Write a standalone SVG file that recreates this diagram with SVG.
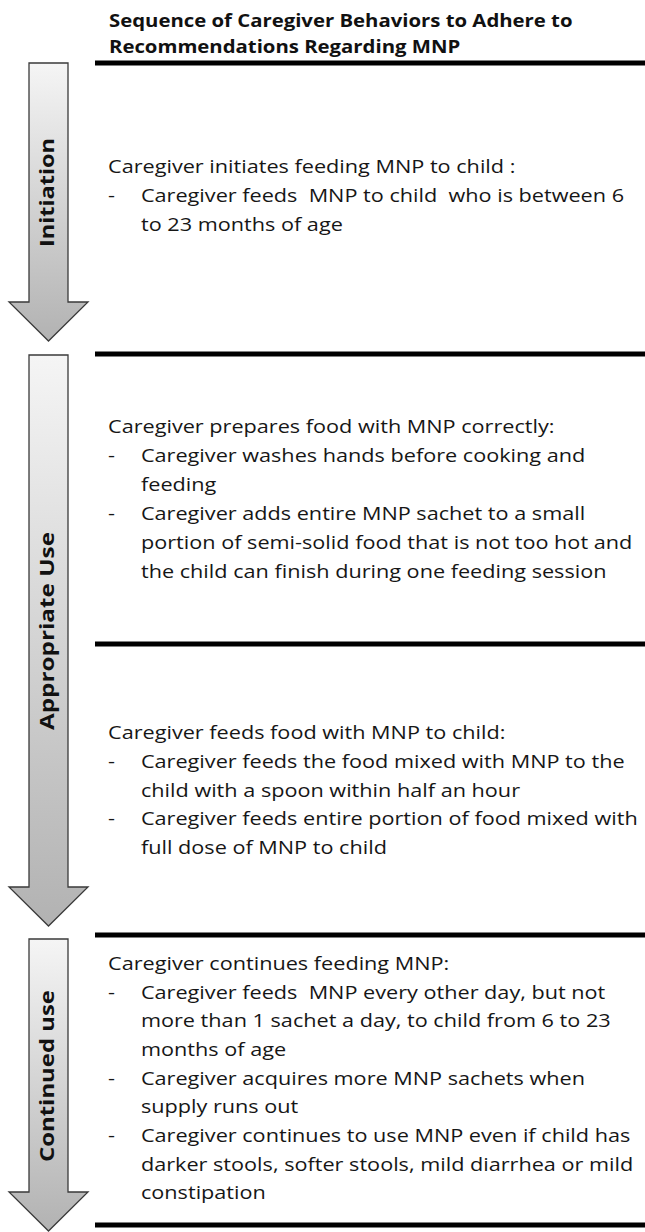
<svg xmlns="http://www.w3.org/2000/svg" width="645" height="1232" viewBox="0 0 645 1232">
<style>
.t{font-family:"Open Sans","Liberation Sans",sans-serif;font-size:19px;fill:#161616;white-space:pre}
.h{font-family:"Open Sans","Liberation Sans",sans-serif;font-size:18px;font-weight:bold;fill:#111}
.lab{font-family:"Open Sans","Liberation Sans",sans-serif;font-size:20px;font-weight:bold;fill:#111;text-anchor:middle}
.arr{fill:url(#g);stroke:#3a3a3a;stroke-width:1.3}
.rule{stroke:#000;stroke-width:5}
</style>
<defs>
<linearGradient id="g" x1="0" y1="0" x2="0" y2="1">
<stop offset="0" stop-color="#f5f5f5"/>
<stop offset="1" stop-color="#b2b2b2"/>
</linearGradient>
</defs>
<g id="title" transform="translate(109 0) scale(1.13 1)">
<text class="h" x="0" y="27">Sequence of Caregiver Behaviors to Adhere to</text>
<text class="h" x="0" y="53">Recommendations Regarding MNP</text>
</g>
<g id="connectors">
<line class="rule" x1="95" y1="63" x2="645" y2="63"/>
<line class="rule" x1="95" y1="354" x2="645" y2="354"/>
<line class="rule" x1="95" y1="644" x2="645" y2="644"/>
<line class="rule" x1="95" y1="935" x2="645" y2="935"/>
<line class="rule" x1="95" y1="1225" x2="645" y2="1225"/>
</g>
<g id="arrow-initiation">
<path class="arr" d="M29,63 H68 V302 H88 L48.5,341 L9,302 H29 Z"/>
<text class="lab" transform="translate(54,192.5) rotate(-90)" textLength="109" lengthAdjust="spacingAndGlyphs">Initiation</text>
</g>
<g id="arrow-appropriate">
<path class="arr" d="M29,355 H68 V887 H88 L48.5,926 L9,887 H29 Z"/>
<text class="lab" transform="translate(54,631) rotate(-90)" textLength="198" lengthAdjust="spacingAndGlyphs">Appropriate Use</text>
</g>
<g id="arrow-continued">
<path class="arr" d="M29,939 H68 V1192 H88 L48.5,1231 L9,1192 H29 Z"/>
<text class="lab" transform="translate(54,1076) rotate(-90)" textLength="172" lengthAdjust="spacingAndGlyphs">Continued use</text>
</g>
<g id="block-initiation" transform="translate(108 0) scale(1.14 1)">
<text class="t" x="0" y="173">Caregiver initiates feeding MNP to child :</text>
<text class="t" x="0" y="202">-</text>
<text class="t" x="28.9" y="202">Caregiver feeds  MNP to child  who is between 6</text>
<text class="t" x="28.9" y="231">to 23 months of age</text>
</g>
<g id="block-prepare" transform="translate(108 0) scale(1.14 1)">
<text class="t" x="0" y="433">Caregiver prepares food with MNP correctly:</text>
<text class="t" x="0" y="462">-</text>
<text class="t" x="28.9" y="462">Caregiver washes hands before cooking and</text>
<text class="t" x="28.9" y="491">feeding</text>
<text class="t" x="0" y="520">-</text>
<text class="t" x="28.9" y="520">Caregiver adds entire MNP sachet to a small</text>
<text class="t" x="28.9" y="549">portion of semi-solid food that is not too hot and</text>
<text class="t" x="28.9" y="578">the child can finish during one feeding session</text>
</g>
<g id="block-feed" transform="translate(108 0) scale(1.14 1)">
<text class="t" x="0" y="739">Caregiver feeds food with MNP to child:</text>
<text class="t" x="0" y="768">-</text>
<text class="t" x="28.9" y="768">Caregiver feeds the food mixed with MNP to the</text>
<text class="t" x="28.9" y="797">child with a spoon within half an hour</text>
<text class="t" x="0" y="825">-</text>
<text class="t" x="28.9" y="825">Caregiver feeds entire portion of food mixed with</text>
<text class="t" x="28.9" y="854">full dose of MNP to child</text>
</g>
<g id="block-continue" transform="translate(108 0) scale(1.14 1)">
<text class="t" x="0" y="970">Caregiver continues feeding MNP:</text>
<text class="t" x="0" y="999">-</text>
<text class="t" x="28.9" y="999">Caregiver feeds  MNP every other day, but not</text>
<text class="t" x="28.9" y="1027">more than 1 sachet a day, to child from 6 to 23</text>
<text class="t" x="28.9" y="1056">months of age</text>
<text class="t" x="0" y="1085">-</text>
<text class="t" x="28.9" y="1085">Caregiver acquires more MNP sachets when</text>
<text class="t" x="28.9" y="1113">supply runs out</text>
<text class="t" x="0" y="1142">-</text>
<text class="t" x="28.9" y="1142">Caregiver continues to use MNP even if child has</text>
<text class="t" x="28.9" y="1171">darker stools, softer stools, mild diarrhea or mild</text>
<text class="t" x="28.9" y="1199">constipation</text>
</g>
</svg>
